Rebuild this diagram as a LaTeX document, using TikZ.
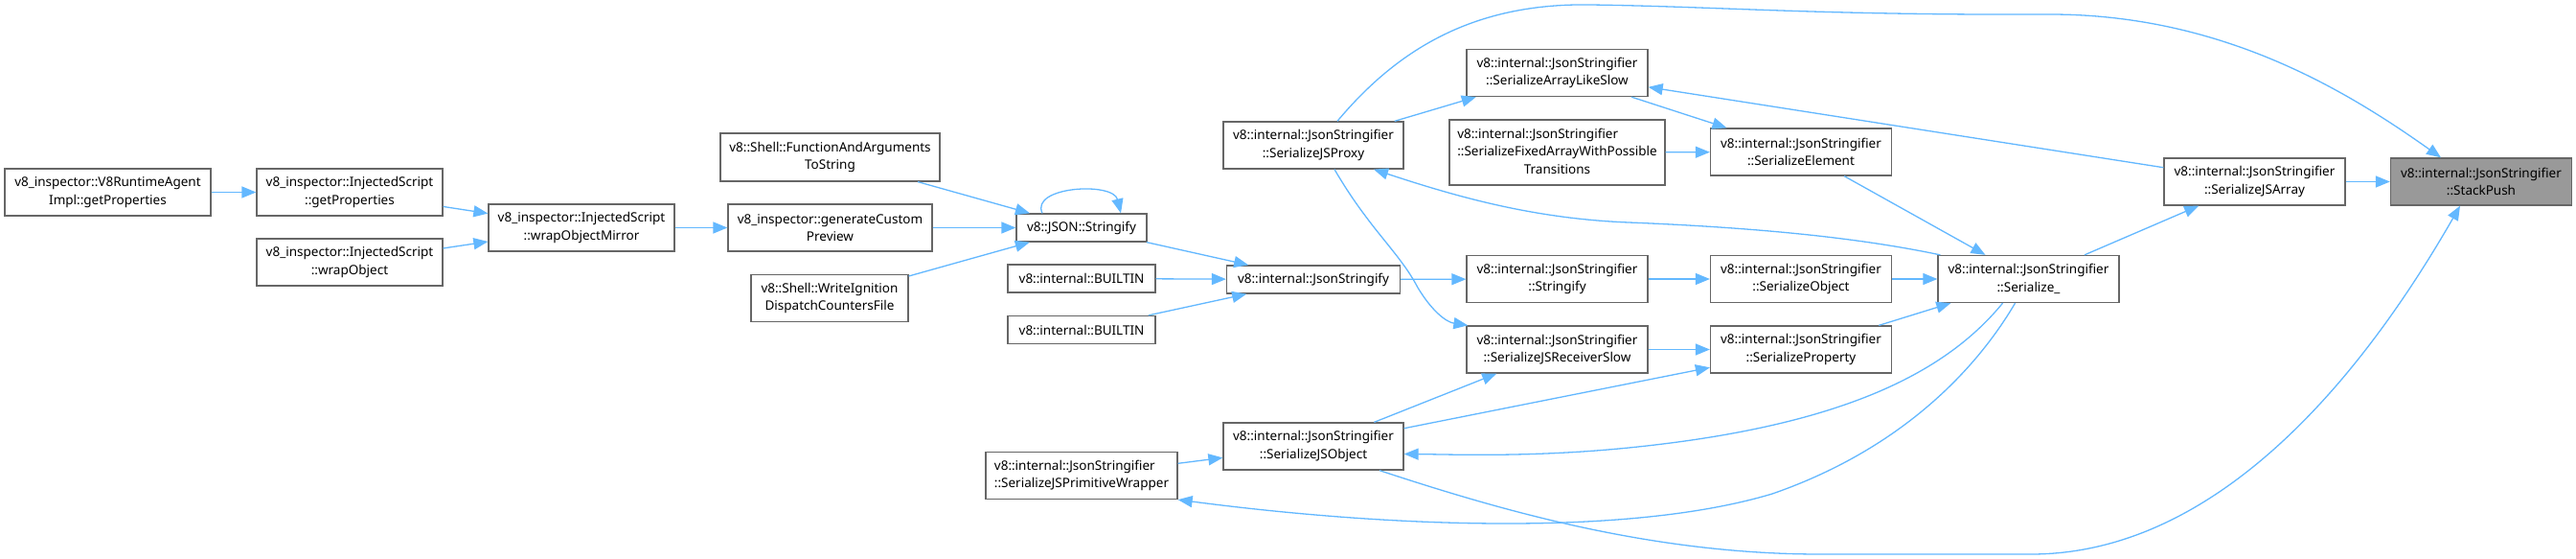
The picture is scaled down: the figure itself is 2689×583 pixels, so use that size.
\documentclass[tikz,border=0pt]{standalone}
\usepackage{fontspec}
\setmainfont{Noto Sans}
\usetikzlibrary{arrows.meta}
\definecolor{edgec}{HTML}{63B8FF}
\definecolor{boxc}{HTML}{666666}
\definecolor{hil}{HTML}{999999}
\begin{document}
\begin{tikzpicture}[x=1pt,y=-1pt,
  box/.style={draw=boxc, line width=1.3pt, fill=white, align=center, inner sep=0pt,
    font=\fontsize{13.5}{18.5}\selectfont, text=black},
  jbox/.style={box, minimum width=189pt, minimum height=49pt},
  edge/.style={draw=edgec, line width=1.3pt, -{Triangle[length=15pt,width=12pt]}},
]
\path[fill=white] (0,0) rectangle (2689,583);
\useasboundingbox (0,0) rectangle (2689,583);

% nodes
\node[box, minimum width=215pt, minimum height=49pt] (rta) at (112.5,200.5) {v8\_inspector::V8RuntimeAgent\\Impl::getProperties};
\node[box, minimum width=194pt, minimum height=49pt] (gp) at (365,200.5) {v8\_inspector::InjectedScript\\::getProperties};
\node[box, minimum width=194pt, minimum height=49pt] (wo) at (365,273.5) {v8\_inspector::InjectedScript\\::wrapObject};
\node[box, minimum width=194pt, minimum height=49pt] (wom) at (607,237.5) {v8\_inspector::InjectedScript\\::wrapObjectMirror};
\node[box, minimum width=229pt, minimum height=50pt] (fat) at (866.5,164) {v8::Shell::FunctionAndArguments\\ToString};
\node[box, minimum width=213pt, minimum height=49pt] (gcp) at (866.5,237.5) {v8\_inspector::generateCustom\\Preview};
\node[box, minimum width=164pt, minimum height=49pt] (wi) at (866,311) {v8::Shell::WriteIgnition\\DispatchCountersFile};
\node[box, minimum width=136pt, minimum height=29pt] (js) at (1129,237.5) {v8::JSON::Stringify};
\node[box, minimum width=154pt, minimum height=29pt] (b1) at (1129,290.5) {v8::internal::BUILTIN};
\node[box, minimum width=154pt, minimum height=29pt] (b2) at (1129,344) {v8::internal::BUILTIN};
\node[box, minimum width=181pt, minimum height=29pt] (jsf) at (1371,291.5) {v8::internal::JsonStringify};
\node[jbox, minimum width=188pt] (jsp) at (1371,151.5) {v8::internal::JsonStringifier\\::SerializeJSProxy};
\node[jbox, minimum width=188pt] (jso) at (1371,465.5) {v8::internal::JsonStringifier\\::SerializeJSObject};
\node[box, minimum width=200pt, minimum height=49pt] (jspw) at (1129,496) {\begin{tabular}{@{}l@{}}v8::internal::JsonStringifier\\::SerializeJSPrimitiveWrapper\end{tabular}};
\node[jbox] (als) at (1625.5,76) {v8::internal::JsonStringifier\\::SerializeArrayLikeSlow};
\node[box, minimum width=225pt, minimum height=68pt] (fa) at (1625.5,159) {\begin{tabular}{@{}l@{}}v8::internal::JsonStringifier\\::SerializeFixedArrayWithPossible\\\multicolumn{1}{@{}c@{}}{Transitions}\end{tabular}};
\node[jbox] (str) at (1625.5,291) {v8::internal::JsonStringifier\\::Stringify};
\node[jbox] (rs) at (1625.5,364.5) {v8::internal::JsonStringifier\\::SerializeJSReceiverSlow};
\node[jbox] (se) at (1880,158.5) {v8::internal::JsonStringifier\\::SerializeElement};
\node[jbox] (so) at (1880,291) {v8::internal::JsonStringifier\\::SerializeObject};
\node[jbox] (sp) at (1880,364.5) {v8::internal::JsonStringifier\\::SerializeProperty};
\node[jbox] (ser) at (2117.5,291) {v8::internal::JsonStringifier\\::Serialize\_};
\node[jbox] (sja) at (2353.5,189.5) {v8::internal::JsonStringifier\\::SerializeJSArray};
\node[jbox, fill=hil] (stp) at (2590,189.5) {v8::internal::JsonStringifier\\::StackPush};

% straight edges
\draw[edge] (rta) -- (gp);
\draw[edge] (gp) -- (wom);
\draw[edge] (wo) -- (wom);
\draw[edge] (wom) -- (gcp);
\draw[edge] (fat) -- (js);
\draw[edge] (gcp) -- (js);
\draw[edge] (wi) -- (js);
\draw[edge] ([xshift=-41pt]js.north) .. controls +(-13,-28) and +(-8,-33) .. ([xshift=41pt]js.north);
\draw[edge] (js) -- (jsf);
\draw[edge] (b1) -- (jsf);
\draw[edge] (b2) -- (jsf);
\draw[edge] (jsf) -- (str);
\draw[edge] (str) -- (so);
\draw[edge] (so) -- (ser);
\draw[edge] (rs) -- (sp);
\draw[edge] (sp) -- (ser);
\draw[edge] (se) -- (ser);
\draw[edge] (als) -- (se);
\draw[edge] (fa) -- (se);
\draw[edge] (jsp) -- (als);
\draw[edge] (ser) -- (sja);
\draw[edge] (sja) -- (stp);
\draw[edge] (sja) -- (als);
\draw[edge] (jso) -- (rs);
\draw[edge] (jso) -- (sp);
\draw[edge] (jspw) -- (jso);

% curved edges
\draw[edge] ([xshift=25pt]jsp.north) .. controls (1460,50) and (1540,3) .. (1660,5)
  .. controls (1800,7) and (1900,16) .. (2140,15)
  .. controls (2320,15) and (2450,95) .. ([xshift=-42pt]stp.north);
\draw[edge] ([xshift=22pt]jsp.south) .. controls (1430,240) and (1460,262) .. (1480,300)
  .. controls (1495,325) and (1510,336) .. ([xshift=2pt]rs.north west);
\draw[edge] ([xshift=3pt]ser.north west) .. controls (1950,250) and (1850,238) .. (1700,232)
  .. controls (1600,228) and (1520,205) .. ([xshift=63pt]jsp.south);
\draw[edge] ([xshift=-27pt]ser.south) .. controls (2030,390) and (1920,445) .. (1700,467)
  .. controls (1600,477) and (1520,474) .. ([yshift=-8pt]jso.east);
\draw[edge] ([xshift=-14pt]ser.south) .. controls (2060,390) and (1980,470) .. (1850,515)
  .. controls (1700,560) and (1450,550) .. (jspw.south east);
\draw[edge] ([xshift=69pt]jso.south) .. controls (1560,530) and (1720,578) .. (1900,578)
  -- (2120,578) .. controls (2300,578) and (2450,420) .. ([xshift=-22pt]stp.south);
\end{tikzpicture}
\end{document}
